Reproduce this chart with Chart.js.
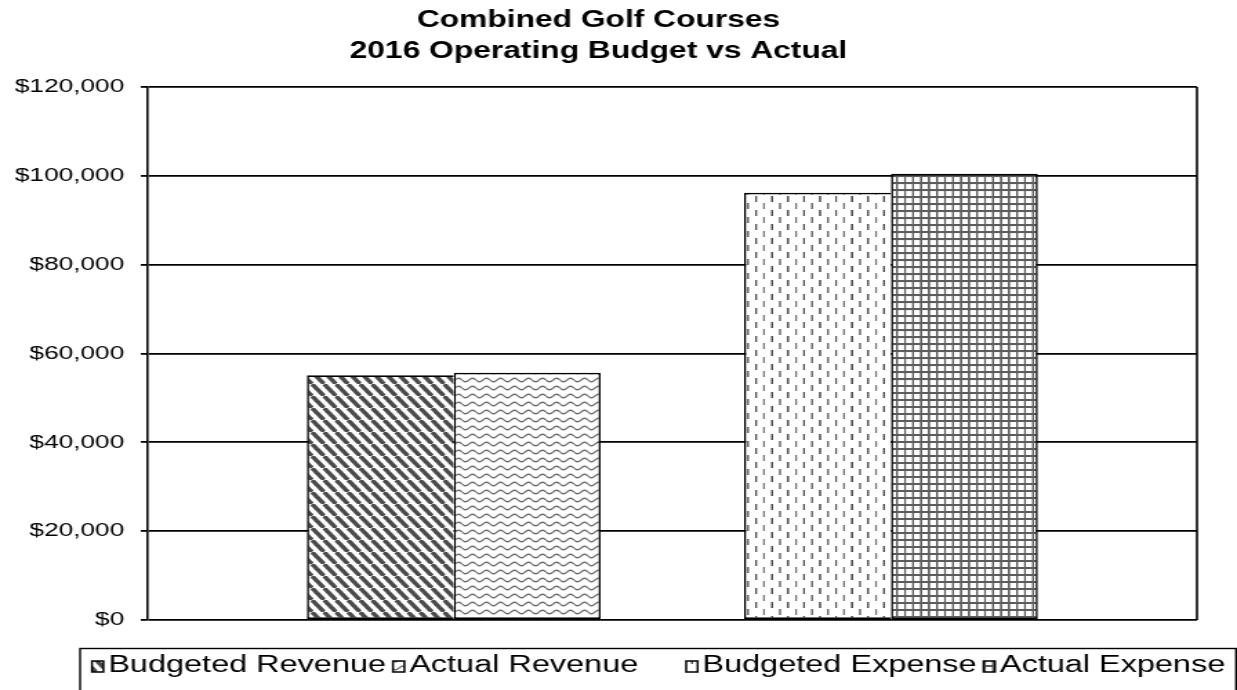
<!DOCTYPE html>
<html>
<head>
<meta charset="utf-8">
<title>Combined Golf Courses</title>
<script src="https://cdn.jsdelivr.net/npm/chart.js@4.4.0/dist/chart.umd.min.js"></script>
<style>
html,body{margin:0;padding:0;background:#fff;overflow:hidden}
</style>
</head>
<body>
<canvas id="chart" width="896" height="690" style="display:block;width:1237px;height:690px"></canvas>
<script>
const categories=['Revenue','Expense'];
const budgetedRevenue=[55100,null];
const actualRevenue=[55700,null];
const budgetedExpense=[null,96200];
const actualExpense=[null,100500];
const seriesNames=['Budgeted Revenue','Actual Revenue','Budgeted Expense','Actual Expense'];
const yTicks=[0,20000,40000,60000,80000,100000,120000];
const titleLines=['Combined Golf Courses','2016 Operating Budget vs Actual'];

// the canvas is drawn narrow and widened by css, so fills are built in screen pixels
const SX=1237/896;
const FONT='"Liberation Sans", Arial, sans-serif';
const ctx=document.getElementById('chart').getContext('2d');

function tile(w,h,draw){
 const c=document.createElement('canvas');c.width=w;c.height=h;
 const g=c.getContext('2d');g.fillStyle='#fff';g.fillRect(0,0,w,h);draw(g,w,h);
 const p=ctx.createPattern(c,'repeat');
 p.setTransform(new DOMMatrix().scale(1/SX,1));
 return p;
}
const diag=tile(12,12,(g,w,h)=>{g.strokeStyle='#4a4a4a';g.lineWidth=4.2;
 for(const o of [-w,0,w]){g.beginPath();g.moveTo(o,0);g.lineTo(o+w,h);g.stroke();}});
const wave=tile(14,8,(g,w,h)=>{g.strokeStyle='#6e6e6e';g.lineWidth=1.5;g.beginPath();
 for(let x=0;x<=w;x+=0.5){const y=4+1.7*Math.sin(x/w*2*Math.PI);x?g.lineTo(x,y):g.moveTo(x,y);}g.stroke();});
const dash=tile(16,14,g=>{g.fillStyle='#4f4f4f';g.fillRect(3,0,2,6);g.fillStyle='#737373';g.fillRect(11,7,2,6);});
const grid=tile(8,7,(g,w,h)=>{g.fillStyle='#5c5c5c';g.fillRect(0,0,w,2);g.fillRect(0,0,2,h);});

const pts=arr=>arr.map((y,i)=>({x:i,y}));
const leftEdge={top:1.8,left:1.6,bottom:1.8,right:0};
const fullEdge={top:1.8,left:1.6,bottom:1.8,right:1.6};
const sets=[
 {label:seriesNames[0],data:pts(budgetedRevenue),backgroundColor:diag,borderWidth:leftEdge},
 {label:seriesNames[1],data:pts(actualRevenue),backgroundColor:wave,borderWidth:fullEdge},
 {label:seriesNames[2],data:pts(budgetedExpense),backgroundColor:dash,borderWidth:leftEdge},
 {label:seriesNames[3],data:pts(actualExpense),backgroundColor:grid,borderWidth:fullEdge}
];

const frame={id:'frame',beforeDatasetsDraw(chart){
 const a=chart.chartArea,c=chart.ctx;c.save();
 c.strokeStyle='#000';c.lineWidth=1.6;c.beginPath();c.moveTo(a.right,a.top);c.lineTo(a.right,a.bottom);c.stroke();
 c.restore();
}};

// legend: first pair from the left edge, second pair ending at the right edge
const legendBox={id:'legendBox',afterDraw(chart){
 const c=chart.ctx;c.save();
 c.strokeStyle='#000';c.lineWidth=1.4;c.strokeRect(58,648.5,837.3,80);
 c.font='23.5px '+FONT;c.textBaseline='alphabetic';
 const items=chart.data.datasets.map(d=>({text:d.label,fill:d.backgroundColor,w:c.measureText(d.label).width}));
 const iw=8.3,ih=11,gap=3.5,sep=5,base=672;
 const place=(it,x)=>{
  c.fillStyle=it.fill;c.fillRect(x,base-ih,iw,ih);
  c.lineWidth=1.5;c.strokeRect(x,base-ih,iw,ih);
  c.fillStyle='#000';c.fillText(it.text,x+iw+gap,base);
 };
 let x=66.6;place(items[0],x);
 x+=iw+gap+items[0].w+sep;place(items[1],x);
 x=887.5-items[3].w-gap-iw;place(items[3],x);
 x-=sep+items[2].w+gap+iw;place(items[2],x);
 c.restore();
}};

new Chart(ctx,{
 type:'bar',
 data:{labels:categories,datasets:sets},
 options:{
  responsive:false,animation:false,
  layout:{padding:{left:0,right:29,top:0,bottom:70}},
  datasets:{bar:{skipNull:true,categoryPercentage:0.672,barPercentage:1,borderColor:'#000',borderSkipped:false,inflateAmount:0}},
  plugins:{
   legend:{display:false},tooltip:{enabled:false},
   title:{display:true,text:titleLines,color:'#000',font:{family:FONT,size:23,weight:'bold',lineHeight:1.35},padding:{top:5,bottom:20}}
  },
  scales:{
   x:{type:'linear',min:-0.7,max:1.7,offset:false,display:false,
    afterBuildTicks:s=>{s.ticks=categories.map((c,i)=>({value:i}));}},
   y:{min:0,max:120000,
    afterBuildTicks:s=>{s.ticks=yTicks.map(v=>({value:v}));},
    afterFit:s=>{s.width=107;},
    ticks:{color:'#000',font:{family:FONT,size:19},padding:12,callback:v=>'$'+v.toLocaleString('en-US')},
    grid:{color:'#000',lineWidth:1.8,tickLength:5,drawTicks:true},
    border:{color:'#000',width:1.6}}
  }
 },
 plugins:[frame,legendBox]
});
</script>
</body>
</html>
